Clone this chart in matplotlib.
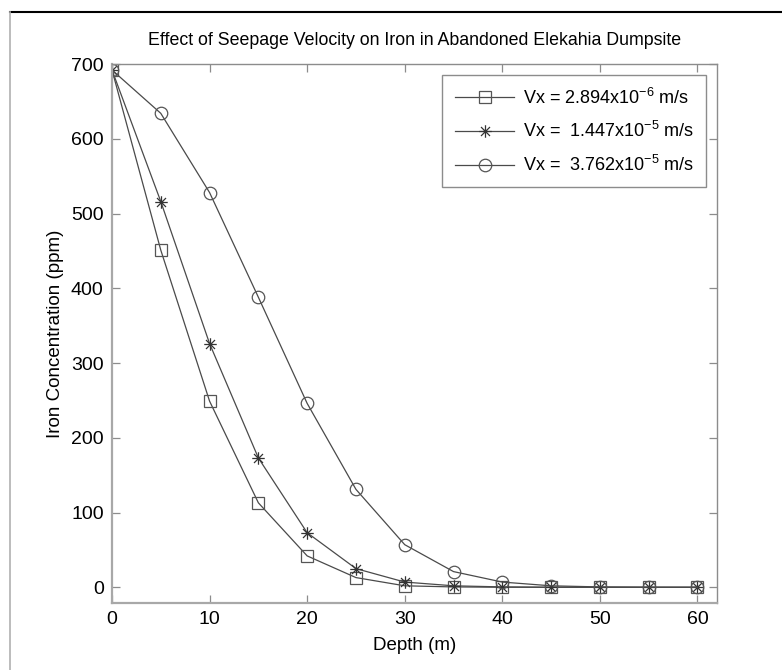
import matplotlib
matplotlib.use("Agg")
import matplotlib.pyplot as plt
from matplotlib.path import Path
from matplotlib.lines import Line2D
from matplotlib import font_manager

# ---------------- data ----------------
depth = [0, 5, 10, 15, 20, 25, 30, 35, 40, 45, 50, 55, 60]
conc_v1 = [692, 451, 249, 113, 42, 13, 2, 0.5, 0.1, 0, 0, 0, 0]
conc_v2 = [692, 516, 326, 173, 73, 25, 7, 2, 0.5, 0.1, 0, 0, 0]
conc_v3 = [692, 634, 528, 388, 246, 131, 57, 21, 7, 2, 0.5, 0.1, 0]
labels = [
    r"Vx = 2.894x10$^{\mathregular{-6}}$ m/s",
    r"Vx =  1.447x10$^{\mathregular{-5}}$ m/s",
    r"Vx =  3.762x10$^{\mathregular{-5}}$ m/s",
]
title = "Effect of Seepage Velocity on Iron in Abandoned Elekahia Dumpsite"
xlabel = "Depth (m)"
ylabel = "Iron Concentration (ppm)"
xticks = [0, 10, 20, 30, 40, 50, 60]
yticks = [0, 100, 200, 300, 400, 500, 600, 700]

# ---------------- fonts ----------------
names = {f.name for f in font_manager.fontManager.ttflist}
fam = ["Liberation Sans Narrow", "Liberation Sans", "DejaVu Sans"]
fam = [f for f in fam if f in names] or ["DejaVu Sans"]
plt.rcParams["font.family"] = fam

# asterisk marker (MATLAB style '*')
d = 0.72
ast_verts = [(0, -1), (0, 1), (-1, 0), (1, 0), (-d, -d), (d, d), (-d, d), (d, -d)]
ast_codes = [Path.MOVETO, Path.LINETO] * 4
asterisk = Path(ast_verts, ast_codes)

fig = plt.figure(figsize=(7.82, 6.70), dpi=100)
ax = fig.add_axes([112 / 782, 1 - 603 / 670, (717 - 112) / 782, (603 - 64) / 670])

line_col = "#4a4a4a"
ax.plot(depth, conc_v1, color=line_col, lw=0.9, marker="s", ms=8, mfc="none",
        mec="#555555", mew=0.9, label=labels[0])
ax.plot(depth, conc_v2, color=line_col, lw=0.9, marker=asterisk, ms=9, mfc="none",
        mec="#333333", mew=0.9, label=labels[1])
ax.plot(depth, conc_v3, color=line_col, lw=0.9, marker="o", ms=9, mfc="none",
        mec="#555555", mew=0.9, label=labels[2])

ax.set_xlim(0, 62)
ax.set_ylim(-21, 700)
ax.set_xticks(xticks)
ax.set_yticks(yticks)

for s in ["left", "bottom"]:
    ax.spines[s].set_color("#a8a8a8")
    ax.spines[s].set_linewidth(1.6)
for s in ["top", "right"]:
    ax.spines[s].set_color("#8c8c8c")
    ax.spines[s].set_linewidth(1.0)

ax.tick_params(axis="both", direction="in", length=5.5, width=0.9, color="#8c8c8c",
               top=True, right=True, labelsize=14, pad=6, labelcolor="black")

ax.set_title(title, fontsize=12.8, pad=14)
ax.set_xlabel(xlabel, fontsize=13.5, labelpad=6)
ax.set_ylabel(ylabel, fontsize=13.5, labelpad=5)

leg = ax.legend(loc="upper right", fontsize=13, handlelength=3.3, handletextpad=0.45,
                labelspacing=0.75, borderpad=0.7, fancybox=False, framealpha=1,
                edgecolor="#8c8c8c", borderaxespad=0.6)
leg.get_frame().set_linewidth(1.0)

# screenshot frame lines
fig.add_artist(Line2D([10 / 782, 1], [1 - 12 / 670, 1 - 12 / 670], color="black", lw=1.5,
                      transform=fig.transFigure))
fig.add_artist(Line2D([10 / 782, 10 / 782], [0, 1 - 12 / 670], color="#b0b0b0", lw=1.2,
                      transform=fig.transFigure))

fig.savefig("out.png", dpi=100, facecolor="white")
